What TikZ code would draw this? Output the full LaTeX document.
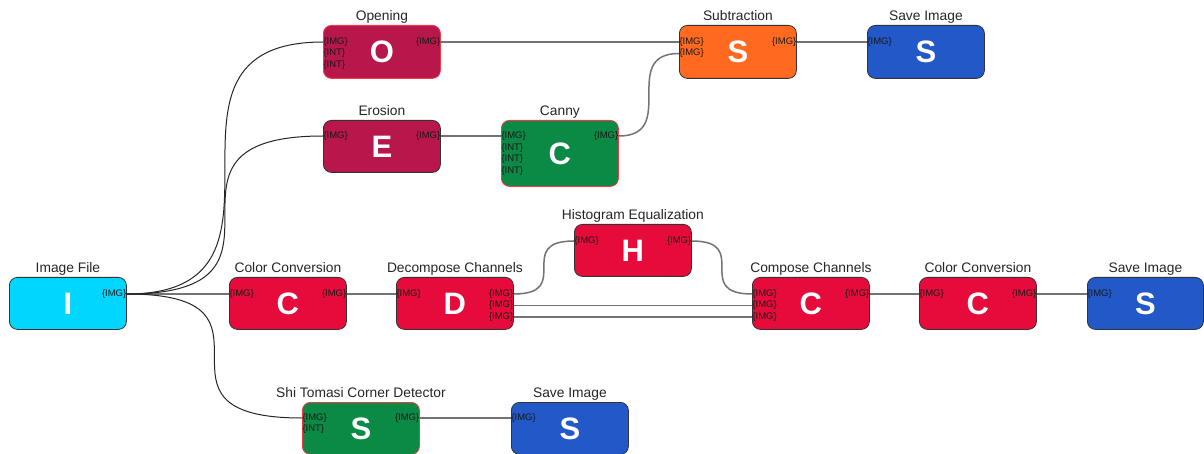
\documentclass[tikz,border=0pt]{standalone}
\usepackage{fontspec}
\setmainfont{Liberation Sans}
\definecolor{cCyan}{HTML}{00D6FF}
\definecolor{cCrimson}{HTML}{B8174C}
\definecolor{cRed}{HTML}{E60B3B}
\definecolor{cGreen}{HTML}{0A8A45}
\definecolor{cOrange}{HTML}{FF6A20}
\definecolor{cBlue}{HTML}{2358C8}
\definecolor{cEdge}{HTML}{333333}
\definecolor{cRedEdge}{HTML}{F03A48}
\newcommand\portin[4]{\coordinate (#2) at ([yshift=-#3pt]#1.north west);
  \node[portlbl,anchor=west] (#2l) at (#2) {#4};}
\newcommand\portout[4]{\coordinate (#2) at ([yshift=-#3pt]#1.north east);
  \node[portlbl,anchor=east] (#2l) at (#2) {#4};}
\newcommand\ttlof[2]{\node[ttl] (#1t) at ([yshift=4.5pt]#1.north) {#2};}
\begin{document}
\begin{tikzpicture}[x=1pt,y=-1pt,
  blk/.style={draw=cEdge, line width=0.8pt, rounded corners=8pt, minimum width=117pt,
    minimum height=52pt, anchor=north west, inner sep=0pt, text=white,
    font=\fontsize{31}{31}\selectfont\bfseries},
  redge/.style={draw=cRedEdge},
  ttl/.style={font=\fontsize{13.8}{13.8}\selectfont, text=black!85, inner sep=0pt, anchor=base},
  portlbl/.style={font=\fontsize{9.5}{9.5}\selectfont, text=black!90, inner sep=0.3pt},
  wire/.style={draw=black!55, line width=1.5pt},
  wireB/.style={draw=black!85, line width=1pt}]
\useasboundingbox[fill=white] (0,0) rectangle (1204,454);

\node[blk, fill=cCyan] (imgf) at (9,277) {I};
\node[blk, fill=cCrimson, redge, minimum height=53pt] (open) at (323,25) {O};
\node[blk, fill=cCrimson] (eros) at (323,120) {E};
\node[blk, fill=cGreen, redge, minimum height=66pt] (canny) at (501,120) {C};
\node[blk, fill=cOrange, minimum height=53pt] (sub) at (679,25) {S};
\node[blk, fill=cBlue, minimum height=53pt] (saveA) at (867,25) {S};
\node[blk, fill=cRed] (ccA) at (229,277) {C};
\node[blk, fill=cRed] (dec) at (396,277) {D};
\node[blk, fill=cRed] (hist) at (574,224) {H};
\node[blk, fill=cRed] (comp) at (752,277) {C};
\node[blk, fill=cRed] (ccB) at (919,277) {C};
\node[blk, fill=cBlue, minimum width=116pt] (saveB) at (1087,277) {S};
\node[blk, fill=cGreen, redge] (shi) at (302,402) {S};
\node[blk, fill=cBlue] (saveC) at (511,402) {S};

\ttlof{imgf}{Image File}
\ttlof{open}{Opening}
\ttlof{eros}{Erosion}
\ttlof{canny}{Canny}
\ttlof{sub}{Subtraction}
\ttlof{saveA}{Save Image}
\ttlof{ccA}{Color Conversion}
\ttlof{dec}{Decompose Channels}
\ttlof{hist}{Histogram Equalization}
\ttlof{comp}{Compose Channels}
\ttlof{ccB}{Color Conversion}
\ttlof{saveB}{Save Image}
\ttlof{shi}{Shi Tomasi Corner Detector}
\ttlof{saveC}{Save Image}

\portout{imgf}{imgf-o}{17}{\{IMG\}}
\portin{open}{open-i1}{17}{\{IMG\}}
\portin{open}{open-i2}{28.5}{\{INT\}}
\portin{open}{open-i3}{40}{\{INT\}}
\portout{open}{open-o}{17}{\{IMG\}}
\portin{eros}{eros-i1}{16}{\{IMG\}}
\portout{eros}{eros-o}{16}{\{IMG\}}
\portin{canny}{canny-i1}{16}{\{IMG\}}
\portin{canny}{canny-i2}{27.7}{\{INT\}}
\portin{canny}{canny-i3}{39.4}{\{INT\}}
\portin{canny}{canny-i4}{51.1}{\{INT\}}
\portout{canny}{canny-o}{16}{\{IMG\}}
\portin{sub}{sub-i1}{17}{\{IMG\}}
\portin{sub}{sub-i2}{28.5}{\{IMG\}}
\portout{sub}{sub-o}{17}{\{IMG\}}
\portin{saveA}{saveA-i}{17}{\{IMG\}}
\portin{ccA}{ccA-i}{17}{\{IMG\}}
\portout{ccA}{ccA-o}{17}{\{IMG\}}
\portin{dec}{dec-i}{17}{\{IMG\}}
\portout{dec}{dec-o1}{17}{\{IMG\}}
\portout{dec}{dec-o2}{28.5}{\{IMG\}}
\portout{dec}{dec-o3}{40}{\{IMG\}}
\portin{hist}{hist-i}{17}{\{IMG\}}
\portout{hist}{hist-o}{17}{\{IMG\}}
\portin{comp}{comp-i1}{17}{\{IMG\}}
\portin{comp}{comp-i2}{28.5}{\{IMG\}}
\portin{comp}{comp-i3}{40}{\{IMG\}}
\portout{comp}{comp-o}{17}{\{IMG\}}
\portin{ccB}{ccB-i}{17}{\{IMG\}}
\portout{ccB}{ccB-o}{17}{\{IMG\}}
\portin{saveB}{saveB-i}{17}{\{IMG\}}
\portin{shi}{shi-i1}{16}{\{IMG\}}
\portin{shi}{shi-i2}{27.5}{\{INT\}}
\portout{shi}{shi-o}{16}{\{IMG\}}
\portin{saveC}{saveC-i}{16}{\{IMG\}}

\draw[wire] (imgf-o) -- (ccA-i);
\draw[wireB] (imgf-o) .. controls (imgf-o -| open-i1) and (open-i1 -| imgf-o) .. (open-i1);
\draw[wireB] (imgf-o) .. controls (imgf-o -| eros-i1) and (eros-i1 -| imgf-o) .. (eros-i1);
\draw[wireB] (imgf-o) .. controls (imgf-o -| shi-i1) and (shi-i1 -| imgf-o) .. (shi-i1);
\draw[wire] (open-o) -- (sub-i1);
\draw[wire] (eros-o) -- (canny-i1);
\draw[wire] (canny-o) .. controls (canny-o -| sub-i2) and (sub-i2 -| canny-o) .. (sub-i2);
\draw[wire] (sub-o) -- (saveA-i);
\draw[wire] (ccA-o) -- (dec-i);
\draw[wire] (dec-o1) .. controls (dec-o1 -| hist-i) and (hist-i -| dec-o1) .. (hist-i);
\draw[wire] (hist-o) .. controls (hist-o -| comp-i1) and (comp-i1 -| hist-o) .. (comp-i1);
\draw[wire] (dec-o2) -- (comp-i2);
\draw[wire] (dec-o3) -- (comp-i3);
\draw[wire] (comp-o) -- (ccB-i);
\draw[wire] (ccB-o) -- (saveB-i);
\draw[wire] (shi-o) -- (saveC-i);
\end{tikzpicture}
\end{document}
